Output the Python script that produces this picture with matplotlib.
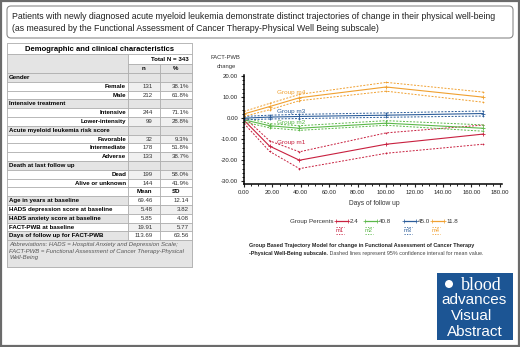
import matplotlib
matplotlib.use("Agg")
import matplotlib.pyplot as plt
from matplotlib.patches import Rectangle, FancyBboxPatch
from matplotlib.ticker import MultipleLocator, FormatStrFormatter

plt.rcParams['font.family'] = ['Liberation Sans', 'DejaVu Sans']

# ---- data ----
title_lines = ["Patients with newly diagnosed acute myeloid leukemia demonstrate distinct trajectories of change in their physical well-being",
               "(as measured by the Functional Assessment of Cancer Therapy-Physical Well Being subscale)"]

total_n = 343
cat_labels = ["Gender", "Female", "Male", "Intensive treatment", "Intensive", "Lower-intensity",
              "Acute myeloid leukemia risk score", "Favorable", "Intermediate", "Adverse",
              "Death at last follow up", "Dead", "Alive or unknown"]
cat_n = ["", "131", "212", "", "244", "99", "", "32", "178", "133", "", "199", "144"]
cat_pct = ["", "38.1%", "61.8%", "", "71.1%", "28.8%", "", "9.3%", "51.8%", "38.7%", "", "58.0%", "41.9%"]

stat_labels = ["Age in years at baseline", "HADS depression score at baseline",
               "HADS anxiety score at baseline", "FACT-PWB at baseline", "Days of follow up for FACT-PWB"]
stat_mean = [69.46, 5.48, 5.85, 19.91, 113.69]
stat_sd = [12.14, 3.82, 4.08, 5.77, 63.56]

days = [0, 18, 39, 100, 168]
groups = ["m1", "m2", "m3", "m4"]
group_pct = ["2.4", "40.8", "45.0", "11.8"]
colors = ["#c8203f", "#5cb84a", "#2c5d9a", "#f0a030"]
mean_vals = {
    "m1": [-1, -13.3, -20, -12.4, -7.6],
    "m2": [-0.8, -3.6, -4.8, -2.4, -4.8],
    "m3": [0, 0.5, 0.8, 1.4, 2.2],
    "m4": [2, 5.5, 9.7, 14.8, 10],
}
lo_vals = {
    "m1": [-2.5, -15.8, -24, -16.7, -12.4],
    "m2": [-1.8, -4.6, -5.8, -3.4, -6.2],
    "m3": [-0.8, -0.4, -0.2, 0.4, 1.0],
    "m4": [0.8, 4.0, 8.3, 12.8, 7.6],
}
hi_vals = {
    "m1": [0.5, -10.8, -16, -7, -3.3],
    "m2": [0.2, -2.6, -3.6, -1.2, -3.2],
    "m3": [0.8, 1.4, 1.8, 2.5, 3.4],
    "m4": [3.2, 7.0, 11.3, 17, 12.4],
}

fig = plt.figure(figsize=(5.2, 3.47), dpi=100)
bg = fig.add_axes([0, 0, 1, 1])
bg.set_xlim(0, 520)
bg.set_ylim(347, 0)
bg.axis("off")

# outer frame and title box
bg.add_patch(Rectangle((0.8, 0.8), 518.4, 345.4, fill=False, ec="#6b6b6b", lw=1.6))
bg.add_patch(FancyBboxPatch((7, 6), 506, 32, boxstyle="round,pad=0,rounding_size=4",
                            fill=False, ec="#8a8a8a", lw=0.8))
bg.text(12, 16, title_lines[0], fontsize=6.3, va="center", color="#222222")
bg.text(12, 28, title_lines[1], fontsize=6.3, va="center", color="#222222")

# ---- table ----
tx0, tx1, tx2, tx3 = 7, 128, 160, 192
grid = "#a8a8a8"
gray = "#e4e4e4"
fs = 4.4


def cell(x0, x1, y0, y1, fc):
    bg.add_patch(Rectangle((x0, y0), x1 - x0, y1 - y0, fc=fc, ec=grid, lw=0.5))


cell(tx0, tx3, 43, 267, "white")
cell(tx0, tx3, 43, 54, "white")
bg.text((tx0 + tx3) / 2, 49, "Demographic and clinical characteristics", fontsize=5.5, weight="bold",
        ha="center", va="center")
cell(tx0, tx1, 54, 73, gray)
cell(tx1, tx3, 54, 64, "white")
bg.text(tx3 - 3, 59, "Total N = %d" % total_n, fontsize=fs, weight="bold", ha="right", va="center")
cell(tx1, tx2, 64, 73, gray)
cell(tx2, tx3, 64, 73, gray)
bg.text((tx1 + tx2) / 2, 68.5, "n", fontsize=fs, weight="bold", ha="center", va="center")
bg.text((tx2 + tx3) / 2, 68.5, "%", fontsize=fs, weight="bold", ha="center", va="center")

rh = 8.8
y = 73
for i, lab in enumerate(cat_labels):
    y1 = y + rh
    if cat_n[i] == "":
        cell(tx0, tx1, y, y1, gray)
        cell(tx1, tx2, y, y1, gray)
        cell(tx2, tx3, y, y1, gray)
        bg.text(tx0 + 2, y + rh / 2, lab, fontsize=fs, weight="bold", va="center")
    else:
        cell(tx0, tx1, y, y1, "white")
        fc = "#f0f0f0" if i % 2 else "white"
        cell(tx1, tx2, y, y1, fc)
        cell(tx2, tx3, y, y1, fc)
        bg.text(tx1 - 2, y + rh / 2, lab, fontsize=fs, weight="bold", ha="right", va="center")
        bg.text(tx2 - 7, y + rh / 2, cat_n[i], fontsize=fs, ha="right", va="center", color="#333333")
        bg.text(tx3 - 3, y + rh / 2, cat_pct[i], fontsize=fs, ha="right", va="center", color="#333333")
    y = y1

cell(tx0, tx1, y, y + rh, "white")
cell(tx1, tx2, y, y + rh, "white")
cell(tx2, tx3, y, y + rh, "white")
bg.text((tx1 + tx2) / 2, y + rh / 2, "Mean", fontsize=fs, weight="bold", ha="center", va="center")
bg.text((tx2 + tx3) / 2, y + rh / 2, "SD", fontsize=fs, weight="bold", ha="center", va="center")
y += rh
for i, lab in enumerate(stat_labels):
    fc = gray if i % 2 == 0 else "white"
    cell(tx0, tx1, y, y + rh, fc)
    cell(tx1, tx2, y, y + rh, "white" if i % 2 == 0 else "#f0f0f0")
    cell(tx2, tx3, y, y + rh, "white" if i % 2 == 0 else "#f0f0f0")
    bg.text(tx0 + 2, y + rh / 2, lab, fontsize=fs, weight="bold", va="center")
    bg.text(tx2 - 7, y + rh / 2, "%.2f" % stat_mean[i], fontsize=fs, ha="right", va="center", color="#333333")
    bg.text(tx3 - 3, y + rh / 2, "%.2f" % stat_sd[i], fontsize=fs, ha="right", va="center", color="#333333")
    y += rh
cell(tx0, tx3, y, 267, gray)
bg.text(tx0 + 2, y + 2, "Abbreviations: HADS = Hospital Anxiety and Depression Scale;\n"
        "FACT-PWB = Functional Assessment of Cancer Therapy-Physical\nWell-Being",
        fontsize=4.3, style="italic", va="top", color="#555555", linespacing=1.35)

# ---- chart ----
ax = fig.add_axes([244 / 520, 1 - 184 / 347, 258 / 520, 109 / 347])
for g, c in zip(groups, colors):
    ax.plot(days, mean_vals[g], color=c, lw=0.8, marker="+", ms=3, mew=0.6)
    ax.plot(days, lo_vals[g], color=c, lw=0.7, ls=(0, (2, 1.5)), marker="+", ms=2, mew=0.5)
    ax.plot(days, hi_vals[g], color=c, lw=0.7, ls=(0, (2, 1.5)), marker="+", ms=2, mew=0.5)

label_pos = {"m4": 12.4, "m3": 3.3, "m2": -2.0, "m1": -11.5}
for g, c in zip(groups, colors):
    ax.text(23, label_pos[g], "Group " + g, color=c, fontsize=4.6, va="center")

ax.set_xlim(0, 181.5)
ax.set_ylim(-31.3, 20.5)
ax.xaxis.set_major_locator(MultipleLocator(20))
ax.xaxis.set_minor_locator(MultipleLocator(5))
ax.yaxis.set_major_locator(MultipleLocator(10))
ax.yaxis.set_minor_locator(MultipleLocator(2))
ax.xaxis.set_major_formatter(FormatStrFormatter("%.2f"))
ax.yaxis.set_major_formatter(FormatStrFormatter("%.2f"))
ax.tick_params(labelsize=4.3, length=2.2, width=0.8, pad=2, colors="#222222")
ax.tick_params(which="minor", length=1.2, width=0.6)
for s in ["top", "right"]:
    ax.spines[s].set_visible(False)
for s in ["left", "bottom"]:
    ax.spines[s].set_linewidth(1.1)
ax.patch.set_alpha(0)

bg.text(225, 57, "FACT-PWB", fontsize=4.2, ha="center", va="center", color="#333333")
bg.text(226, 66, "change", fontsize=4.2, ha="center", va="center", color="#333333")
bg.text(374, 203, "Days of follow up", fontsize=4.8, ha="center", va="center", color="#333333",
        family=["Liberation Sans Narrow", "Liberation Sans"])

# legend
bg.text(290, 221, "Group Percents", fontsize=4.5, va="center", color="#333333")
leg_x = [336, 365, 404, 432]
for xl, c, p, g in zip(leg_x, colors, group_pct, groups):
    bg.plot([xl, xl + 12], [221, 221], color=c, lw=0.9, marker="+", ms=2.5, mew=0.5)
    bg.text(xl + 14, 221, p, fontsize=4.5, va="center", color="#333333")
    cx = xl + 4
    bg.plot([cx - 4, cx + 4], [226.5, 226.5], color=c, lw=0.6, ls=(0, (1.5, 1.5)))
    bg.plot([cx - 4, cx + 4], [233.5, 233.5], color=c, lw=0.6, ls=(0, (1.5, 1.5)))
    bg.text(cx, 230, g, fontsize=4.2, ha="center", va="center", color=c)

# caption
bg.text(249, 245, "Group Based Trajectory Model for change in Functional Assessment of Cancer Therapy",
        fontsize=3.9, weight="bold", va="center", color="#222222")
t1 = bg.text(249, 254, "-Physical Well-Being subscale.", fontsize=3.9, weight="bold", va="center",
             color="#222222")
bg.annotate(" Dashed lines represent 95% confidence interval for mean value.", xy=(1, 0.5),
            xycoords=t1, va="center", fontsize=3.9, color="#444444")

# logo
blue = "#1c5594"
bg.add_patch(Rectangle((437, 273), 76, 67, fc=blue, ec="none"))
bg.add_patch(plt.Circle((449, 284), 4, fc="white", ec="none"))
bg.text(481, 285, "blood", fontsize=13, family=["Liberation Serif", "DejaVu Serif"], color="white",
        ha="center", va="center")
bg.text(474, 300, "advances", fontsize=11, color="white", ha="center", va="center")
bg.text(472, 316, "Visual", fontsize=11, color="white", ha="center", va="center")
bg.text(475, 332, "Abstract", fontsize=11, color="white", ha="center", va="center")

fig.savefig("out.png", dpi=100)
